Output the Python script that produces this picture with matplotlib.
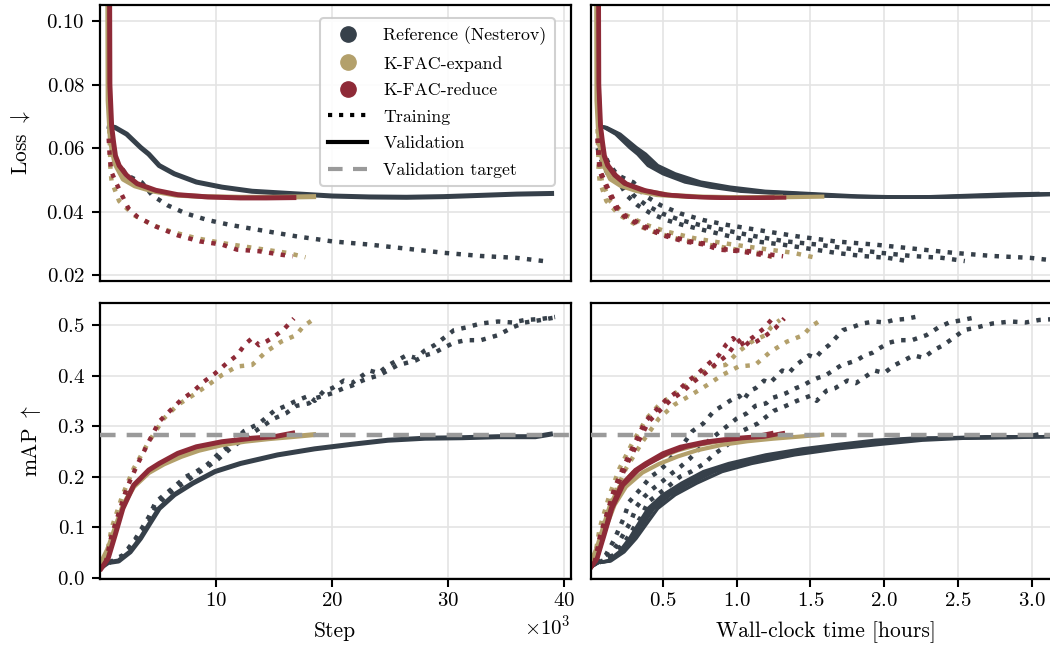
import numpy as np
import matplotlib.pyplot as plt
from matplotlib.lines import Line2D

plt.rcParams['font.family'] = ['cmr10', 'DejaVu Serif']
plt.rcParams['mathtext.fontset'] = 'cm'
plt.rcParams['axes.formatter.use_mathtext'] = True

NES_COLOR = '#36404a'
EXP_COLOR = '#b3a06b'
RED_COLOR = '#8e2a37'
TARGET_COLOR = '#9a9a9a'

# ---- data (steps in thousands) ----
nes_val_loss_steps = [0.8, 1.3, 2.3, 3.5, 4.2, 5.1, 6.4, 8.3, 10.5, 13.1, 16.3, 20.0, 23.2, 26.4, 29.6, 32.8, 35.9, 38.9]
nes_val_loss = [0.0668, 0.0665, 0.0644, 0.0602, 0.0581, 0.0545, 0.0519, 0.0493, 0.0477, 0.0464, 0.0457, 0.0449,
                0.0446, 0.0445, 0.0447, 0.0451, 0.0455, 0.0457]
nes_train_loss_steps = [1.0, 1.6, 2.3, 3.0, 3.6, 4.5, 5.8, 7.4, 9.3, 11.2, 13.7, 16.9, 20.0, 23.2, 26.4, 29.6, 32.8,
                        35.9, 38.2]
nes_train_loss = [0.060, 0.055, 0.0515, 0.0502, 0.0492, 0.0451, 0.042, 0.0394, 0.0373, 0.0358, 0.0342, 0.0322,
                  0.0306, 0.0296, 0.0283, 0.027, 0.026, 0.0254, 0.0244]

exp_val_loss_steps = [0.6, 0.7, 0.9, 1.3, 2.0, 3.0, 4.5, 6.5, 9.0, 12.0, 15.0, 18.4]
exp_val_loss = [0.20, 0.075, 0.062, 0.055, 0.0502, 0.0481, 0.0465, 0.0452, 0.0447, 0.0445, 0.0445, 0.0447]
exp_train_loss_steps = [0.8, 0.86, 0.9, 1.0, 1.65, 2.9, 4.5, 6.1, 8.3, 10.5, 12.4, 14.2, 16.1, 17.7]
exp_train_loss = [0.066, 0.0597, 0.053, 0.0495, 0.0433, 0.0389, 0.0358, 0.0337, 0.0316, 0.0301, 0.029, 0.028,
                  0.027, 0.0256]

red_val_loss_steps = [0.75, 0.85, 1.0, 1.17, 1.33, 1.65, 2.3, 3.2, 4.8, 6.7, 9.3, 12.1, 14.3, 16.7]
red_val_loss = [0.20, 0.08, 0.067, 0.0618, 0.0576, 0.0545, 0.0514, 0.0488, 0.0467, 0.0453, 0.0446, 0.0443,
                0.0443, 0.0444]
red_train_loss_steps = [0.75, 0.8, 0.86, 1.0, 1.33, 2.1, 2.45, 3.2, 4.8, 6.7, 8.6, 10.5, 11.8, 13.7, 15.6, 16.6]
red_train_loss = [0.063, 0.0597, 0.056, 0.0524, 0.0495, 0.0436, 0.041, 0.0384, 0.0353, 0.0325, 0.0306, 0.0296,
                  0.028, 0.0275, 0.0264, 0.0259]

nes_val_map_steps = [0.2, 0.7, 1.6, 2.6, 3.5, 4.2, 5.1, 6.4, 8.0, 9.9, 12.1, 15.3, 18.5, 21.7, 24.8, 28.0, 31.2,
                     34.3, 37.5, 38.8]
nes_val_map = [0.022, 0.03, 0.033, 0.051, 0.078, 0.104, 0.137, 0.164, 0.187, 0.21, 0.226, 0.243, 0.255, 0.264,
               0.272, 0.276, 0.277, 0.279, 0.279, 0.284]
nes_train_map_steps = [0.8, 2.0, 3.0, 4.2, 4.8, 5.6, 6.4, 7.4, 8.3, 9.3, 10.2, 11.2, 12.4, 13.7, 15.0, 16.0, 16.9,
                       18.0, 18.5, 19.3, 20.0, 21.0, 21.7, 22.6, 23.2, 24.0, 24.8, 25.6, 26.4, 27.2, 28.0, 28.8,
                       29.6, 30.5, 31.5, 32.8, 34.3, 35.5, 36.6, 38.0, 39.2]
nes_train_map_a = [0.03, 0.045, 0.075, 0.12, 0.15, 0.165, 0.18, 0.20, 0.21, 0.225, 0.245, 0.262, 0.29, 0.305, 0.33,
                   0.34, 0.35, 0.36, 0.35, 0.37, 0.375, 0.39, 0.385, 0.40, 0.41, 0.405, 0.42, 0.43, 0.44, 0.435,
                   0.45, 0.46, 0.474, 0.49, 0.495, 0.503, 0.507, 0.505, 0.51, 0.512, 0.516]
nes_train_map_b = [0.03, 0.042, 0.07, 0.11, 0.14, 0.16, 0.175, 0.19, 0.205, 0.22, 0.235, 0.255, 0.275, 0.295, 0.315,
                   0.325, 0.34, 0.345, 0.355, 0.36, 0.365, 0.375, 0.38, 0.39, 0.395, 0.40, 0.41, 0.42, 0.425, 0.43,
                   0.44, 0.445, 0.455, 0.465, 0.47, 0.47, 0.48, 0.495, 0.505, 0.51, 0.515]

exp_val_map_steps = [0.1, 0.7, 1.3, 2.0, 2.9, 4.2, 5.5, 7.0, 8.5, 10.5, 12.5, 14.5, 16.5, 18.4]
exp_val_map = [0.03, 0.058, 0.098, 0.144, 0.18, 0.208, 0.225, 0.24, 0.252, 0.263, 0.27, 0.275, 0.279, 0.283]
exp_train_map_steps = [0.5, 1.0, 1.95, 2.9, 4.2, 5.5, 6.7, 8.0, 9.3, 10.5, 11.8, 13.1, 14.3, 15.6, 16.9, 17.5, 18.3]
exp_train_map = [0.035, 0.098, 0.164, 0.216, 0.269, 0.315, 0.342, 0.361, 0.381, 0.401, 0.418, 0.421, 0.447, 0.467,
                 0.48, 0.497, 0.51]

red_val_map_steps = [0.1, 0.7, 1.3, 1.97, 2.9, 4.2, 5.1, 6.7, 8.3, 10.5, 13.1, 15.0, 16.6]
red_val_map = [0.018, 0.038, 0.084, 0.137, 0.183, 0.213, 0.226, 0.246, 0.259, 0.269, 0.276, 0.279, 0.286]
red_train_map_steps = [0.5, 1.0, 1.65, 2.3, 3.2, 4.2, 5.1, 6.1, 7.0, 8.0, 8.95, 9.9, 10.9, 11.8, 12.5, 13.1, 13.7,
                       14.3, 15.0, 15.9, 16.7]
red_train_map = [0.03, 0.084, 0.13, 0.177, 0.223, 0.269, 0.309, 0.332, 0.352, 0.368, 0.388, 0.404, 0.424, 0.44,
                 0.462, 0.474, 0.46, 0.467, 0.477, 0.493, 0.513]

map_target = 0.2815

# total steps of a run and wall-clock hours of the individual seeds
nes_total_steps = 39.0
exp_total_steps = 18.4
red_total_steps = 16.8
nes_train_hours = [2.2, 2.6, 3.25]
nes_val_hours = [3.05, 3.2, 3.35, 3.55]
exp_hours = [1.3, 1.58]
red_hours = [1.25, 1.33]


def to_hours(steps, total, dur):
    return np.asarray(steps) / total * dur


fig = plt.figure(figsize=(10.5, 6.46), dpi=100)
W, H = 1050, 646
def box(x0, y0, x1, y1):
    return [x0 / W, 1 - y1 / H, (x1 - x0) / W, (y1 - y0) / H]

ax_ls = fig.add_axes(box(100, 5, 570.5, 280.5))
ax_lt = fig.add_axes(box(591, 5, 1061.5, 280.5))
ax_ms = fig.add_axes(box(100, 303, 570.5, 579))
ax_mt = fig.add_axes(box(591, 303, 1061.5, 579))

tr = dict(ls=':', lw=3.2)
va = dict(ls='-', lw=3.6)

# ---- step panels ----
k = 1000.0
ax_ls.plot(np.array(nes_train_loss_steps) * k, nes_train_loss, color=NES_COLOR, **tr)
ax_ls.plot(np.array(nes_val_loss_steps) * k, nes_val_loss, color=NES_COLOR, **va)
ax_ls.plot(np.array(exp_train_loss_steps) * k, exp_train_loss, color=EXP_COLOR, **tr)
ax_ls.plot(np.array(exp_val_loss_steps) * k, exp_val_loss, color=EXP_COLOR, **va)
ax_ls.plot(np.array(red_train_loss_steps) * k, red_train_loss, color=RED_COLOR, **tr)
ax_ls.plot(np.array(red_val_loss_steps) * k, red_val_loss, color=RED_COLOR, **va)

ax_ms.plot(np.array(nes_train_map_steps) * k, nes_train_map_a, color=NES_COLOR, **tr)
ax_ms.plot(np.array(nes_train_map_steps) * k, nes_train_map_b, color=NES_COLOR, **tr)
ax_ms.plot(np.array(nes_val_map_steps) * k, nes_val_map, color=NES_COLOR, **va)
ax_ms.plot(np.array(exp_train_map_steps) * k, exp_train_map, color=EXP_COLOR, **tr)
ax_ms.plot(np.array(exp_val_map_steps) * k, exp_val_map, color=EXP_COLOR, **va)
ax_ms.plot(np.array(red_train_map_steps) * k, red_train_map, color=RED_COLOR, **tr)
ax_ms.plot(np.array(red_val_map_steps) * k, red_val_map, color=RED_COLOR, **va)
ax_ms.axhline(map_target, color=TARGET_COLOR, ls=(0, (3.5, 2.5)), lw=3.2, zorder=5)

# ---- wall-clock panels ----
for (curve, dur) in zip([nes_train_map_a, nes_train_map_b, nes_train_map_a], nes_train_hours):
    ax_lt.plot(to_hours(nes_train_loss_steps, nes_total_steps, dur), nes_train_loss, color=NES_COLOR, **tr)
    ax_mt.plot(to_hours(nes_train_map_steps, nes_total_steps, dur), curve, color=NES_COLOR, **tr)
for dur in nes_val_hours:
    ax_lt.plot(to_hours(nes_val_loss_steps, nes_total_steps, dur), nes_val_loss, color=NES_COLOR, lw=2.4)
    ax_mt.plot(to_hours(nes_val_map_steps, nes_total_steps, dur), nes_val_map, color=NES_COLOR, lw=2.4)
for dur in exp_hours:
    ax_lt.plot(to_hours(exp_train_loss_steps, exp_total_steps, dur), exp_train_loss, color=EXP_COLOR, **tr)
    ax_lt.plot(to_hours(exp_val_loss_steps, exp_total_steps, dur), exp_val_loss, color=EXP_COLOR, lw=3)
    ax_mt.plot(to_hours(exp_train_map_steps, exp_total_steps, dur), exp_train_map, color=EXP_COLOR, **tr)
    ax_mt.plot(to_hours(exp_val_map_steps, exp_total_steps, dur), exp_val_map, color=EXP_COLOR, lw=3)
for dur in red_hours:
    ax_lt.plot(to_hours(red_train_loss_steps, red_total_steps, dur), red_train_loss, color=RED_COLOR, **tr)
    ax_lt.plot(to_hours(red_val_loss_steps, red_total_steps, dur), red_val_loss, color=RED_COLOR, lw=3)
    ax_mt.plot(to_hours(red_train_map_steps, red_total_steps, dur), red_train_map, color=RED_COLOR, **tr)
    ax_mt.plot(to_hours(red_val_map_steps, red_total_steps, dur), red_val_map, color=RED_COLOR, lw=3)
ax_mt.axhline(map_target, color=TARGET_COLOR, ls=(0, (3.5, 2.5)), lw=3.2, zorder=5)

# ---- axes styling ----
for ax in [ax_ls, ax_lt, ax_ms, ax_mt]:
    ax.grid(True, color='#e4e4e4', lw=1.2)
    ax.set_axisbelow(True)
    for s in ax.spines.values():
        s.set_linewidth(1.6)
        s.set_color('black')
    ax.tick_params(labelsize=15, length=6, width=1.5, color='black')
    ax.tick_params(axis='y', pad=5)

for ax in [ax_ls, ax_ms]:
    ax.set_xlim(0, 40530)
    ax.set_xticks([10000, 20000, 30000, 40000])
for ax in [ax_lt, ax_mt]:
    ax.set_xlim(0.012, 3.202)
    ax.set_xticks([0.5, 1.0, 1.5, 2.0, 2.5, 3.0])
for ax in [ax_ls, ax_lt]:
    ax.set_ylim(0.01827, 0.1051)
    ax.set_yticks([0.02, 0.04, 0.06, 0.08, 0.10])
    ax.tick_params(axis='x', bottom=False, labelbottom=False)
for ax in [ax_ms, ax_mt]:
    ax.set_ylim(-0.0026, 0.5436)
    ax.set_yticks([0.0, 0.1, 0.2, 0.3, 0.4, 0.5])
for ax in [ax_lt, ax_mt]:
    ax.tick_params(axis='y', left=False, labelleft=False)

ax_ms.ticklabel_format(axis='x', style='sci', scilimits=(3, 3), useMathText=True)
ax_ms.xaxis.get_offset_text().set_fontsize(15)

ax_ls.set_ylabel(r'Loss $\downarrow$', fontsize=15.5, labelpad=10)
ax_ms.set_ylabel(r'mAP $\uparrow$', fontsize=15.5, labelpad=10)
ax_ms.set_xlabel('Step', fontsize=15.5, labelpad=8)
ax_mt.set_xlabel('Wall-clock time [hours]', fontsize=15.5, labelpad=8)

handles = [
    Line2D([], [], ls='', marker='o', markersize=11, color=NES_COLOR),
    Line2D([], [], ls='', marker='o', markersize=11, color=EXP_COLOR),
    Line2D([], [], ls='', marker='o', markersize=11, color=RED_COLOR),
    Line2D([], [], ls=':', lw=3, color='black'),
    Line2D([], [], ls='-', lw=3, color='black'),
    Line2D([], [], ls=(0, (3.5, 2.5)), lw=3, color=TARGET_COLOR),
]
labels = ['Reference (Nesterov)', 'K-FAC-expand', 'K-FAC-reduce', 'Training', 'Validation', 'Validation target']
leg = ax_ls.legend(handles, labels, loc='upper right', fontsize=12.8, labelspacing=0.62,
                   handlelength=2.2, handletextpad=0.9, borderpad=0.45, fancybox=True,
                   framealpha=0.9, edgecolor='#cccccc', bbox_to_anchor=(0.985, 0.985))
leg.get_frame().set_linewidth(1.5)

fig.savefig('out.png', dpi=100)
